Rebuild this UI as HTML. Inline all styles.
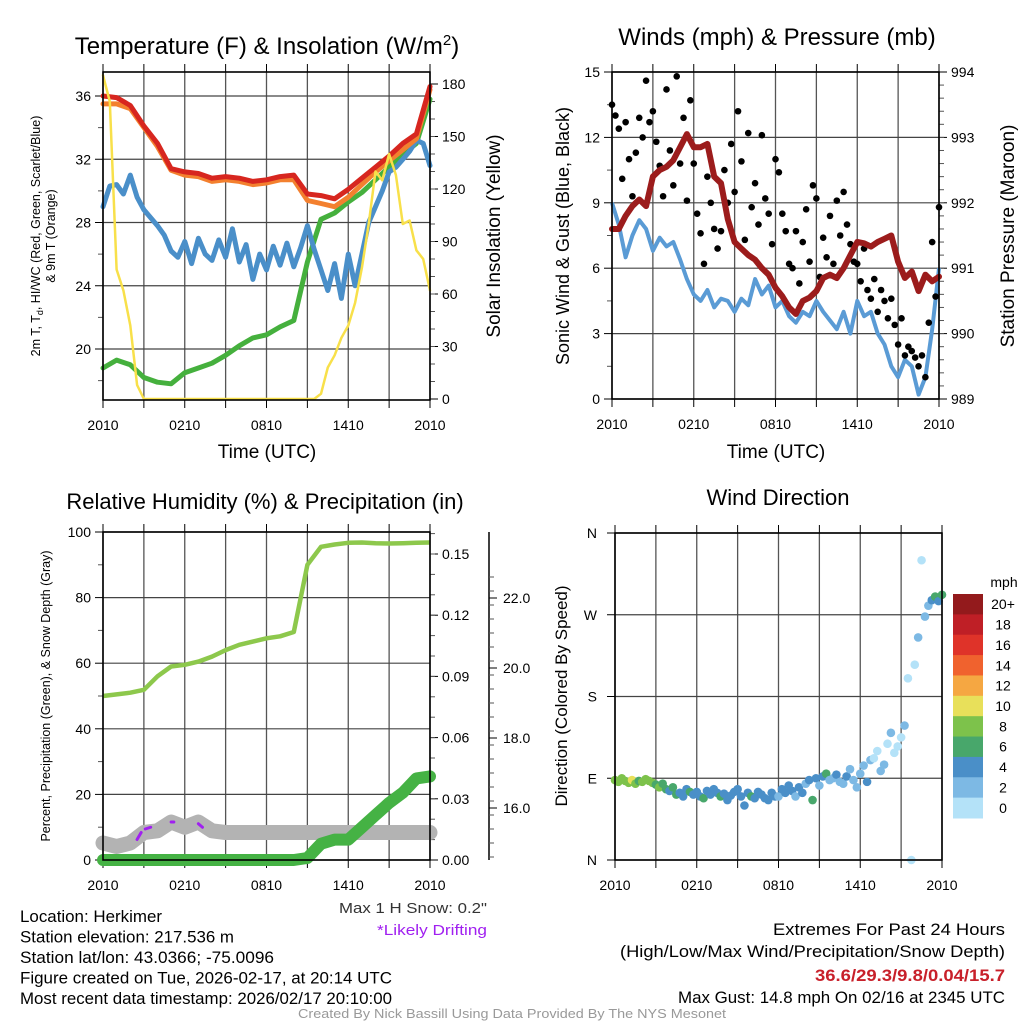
<!DOCTYPE html>
<html><head><meta charset="utf-8"><style>
html,body{margin:0;padding:0;background:#fff}
svg{display:block;font-family:"Liberation Sans",Arial,sans-serif}
</style></head><body>
<svg id="chart" width="1024" height="1024" viewBox="0 0 1024 1024" xmlns="http://www.w3.org/2000/svg">
<g id="g"></g>
</svg>
<script>
// ---------- DATA ----------
const hours = [];
for (let i = 0; i <= 24; i++) hours.push(i);
const halfHours = [];
for (let i = 0; i <= 48; i++) halfHours.push(i / 2);
const qHours = [];
for (let i = 0; i <= 96; i++) qHours.push(i / 4);
const timeTickLabels = ["2010", "0210", "0810", "1410", "2010"];

// Temperature panel (hourly, F)
const tempRed = [36,35.9,35.4,34.1,33.0,31.4,31.2,31.1,30.8,30.9,30.8,30.6,30.7,30.9,31.0,29.8,29.7,29.5,30.1,30.8,31.5,32.2,33.0,33.6,36.6];
const tempOrange = [35.5,35.5,35.2,34.0,32.8,31.3,31.0,30.9,30.6,30.7,30.6,30.4,30.5,30.7,30.7,29.4,29.2,29.0,29.6,30.4,31.2,31.9,32.6,33.3,36.4];
const dewGreen = [18.8,19.3,19.0,18.2,17.9,17.8,18.5,18.8,19.1,19.6,20.2,20.7,20.9,21.4,21.8,25.5,28.2,28.6,29.3,29.9,30.7,31.5,32.3,33.0,35.8];
const windChillBlue = [29.0,30.3,30.4,29.8,31.0,29.6,28.8,28.3,27.8,27.2,26.2,25.8,26.8,25.4,27.0,26.0,25.6,26.9,25.8,27.6,25.5,26.6,24.4,26.0,25.0,26.5,25.3,26.7,25.2,26.4,27.8,26.3,25.0,23.7,25.4,23.2,26.0,24.0,26.0,28.0,29.0,30.0,31.2,31.5,32.0,32.5,33.2,33.0,31.6];
const insolation = [185,170,74,62,42,8,0,0,0,0,0,0,0,0,0,0,0,0,0,0,0,0,0,0,0,0,0,0,0,0,0,0,3,18,25,35,42,55,75,100,130,125,140,128,100,102,85,80,62];
const tempTicks = [20,24,28,32,36];
const insolTicks = [0,30,60,90,120,150,180];

// Winds panel
const windSpeed = [9.0,8.0,6.5,7.5,8.2,7.8,6.8,7.4,7.0,7.2,6.4,5.5,4.8,4.5,5.0,4.2,4.6,4.5,4.0,4.6,4.3,5.5,4.8,5.2,4.2,4.5,3.8,3.5,4.0,3.8,4.5,4.0,3.6,3.2,4.0,3.0,4.5,3.8,4.0,3.0,2.5,1.5,1.0,1.8,1.5,0.2,1.0,3.2,6.0];
const windGust = [13.5,13.0,12.4,10.1,12.7,11.0,9.3,11.3,12.9,12.0,14.6,12.7,13.2,11.8,10.7,9.3,14.2,11.4,9.8,14.8,10.8,12.9,9.1,13.7,10.8,8.5,7.6,6.2,10.2,9.0,7.8,6.9,7.7,10.5,9.0,11.7,9.5,13.2,10.9,7.3,12.2,8.8,9.9,8.0,12.1,9.2,8.5,7.1,11.0,10.4,8.5,7.7,6.2,6.0,7.7,5.3,7.2,8.7,6.3,9.8,9.2,5.6,7.4,6.5,8.4,6.2,9.1,7.5,9.5,8.0,7.1,6.3,6.2,5.4,6.9,5.0,4.6,5.5,4.0,5.0,4.5,3.7,4.6,3.4,2.5,3.7,2.0,2.4,2.2,1.9,1.5,2.0,1.0,3.5,7.2,4.7,8.8];
const pressure = [991.6,991.6,991.8,991.95,992.05,991.95,992.4,992.5,992.55,992.65,992.85,993.05,992.85,992.85,992.9,992.4,992.3,991.75,991.4,991.3,991.2,991.13,991.0,990.9,990.7,990.57,990.4,990.3,990.5,990.55,990.65,990.85,990.9,990.85,991.0,991.2,991.4,991.38,991.33,991.4,991.45,991.5,991.1,990.85,990.95,990.65,990.9,990.8,990.87];
const windTicks = [0,3,6,9,12,15];
const pressTicks = [989,990,991,992,993,994];

// RH / precip panel
const relHum = [50,50.5,51,51.9,56,59,59.5,60.5,62,64,65.6,66.6,67.6,68.2,69.5,90,95.5,96.2,96.7,96.8,96.6,96.5,96.6,96.7,96.8];
const precip = [0,0,0,0,0,0,0,0,0,0,0,0,0,0,0,0.001,0.008,0.01,0.01,0.016,0.022,0.028,0.033,0.04,0.041];
const snowDepth = [15.0,14.9,15.0,15.3,15.35,15.6,15.45,15.6,15.35,15.3,15.3,15.3,15.3,15.3,15.3,15.3,15.3,15.3,15.3,15.3,15.3,15.3,15.3,15.3,15.3];
const driftHours = [2.5,2.8,3.1,3.5,5.0,5.2,7.0,7.3];
const driftSnow = [15.1,15.3,15.4,15.45,15.6,15.6,15.55,15.45];
const rhTicks = [0,20,40,60,80,100];
const precipTicks = ["0.00","0.03","0.06","0.09","0.12","0.15"];
const snowTicks = ["16.0","18.0","20.0","22.0"];

// Wind direction panel
const windDir = [88,86,90,87,85,88,84,87,86,89,87,85,83,80,84,78,76,80,72,74,70,78,75,72,75,70,68,76,72,78,74,70,73,66,71,75,78,70,60,74,70,68,75,72,68,66,74,70,70,78,74,82,76,70,80,74,84,88,66,90,82,92,95,88,90,94,86,84,92,100,88,80,95,104,86,110,112,120,98,105,128,140,118,125,135,148,200,0,215,245,330,268,280,286,290,285,292];
const dirSpeed = [8,9,8,8,9,10,8,7,8,9,8,8,7,8,7,6,5,6,7,5,4,5,6,4,5,4,6,4,4,5,4,6,5,4,4,5,4,5,4,4,6,4,5,4,4,5,4,4,3,4,5,4,4,3,4,5,3,4,6,5,2,4,6,3,3,4,3,2,4,3,3,2,3,2,4,2,1.5,1,2,3,1,2,1.5,1,1,3,1,0.5,1,2.5,1,2,3,4,6,5,7];
const dirLabels = ["N","E","S","W","N"];
const speedBins = ["0","2","4","6","8","10","12","14","16","18","20+"];
const speedColors = ["#b4e2f8","#7db9e4","#4a8fc8","#48a76b","#7dc24b","#e8e05a","#f5a742","#f0622e","#df3329","#bf1f26","#931a1c"];

// ---------- HELPERS ----------
const NS = "http://www.w3.org/2000/svg";
const root = document.getElementById("g");
function el(tag, attrs, parent, text) {
  const e = document.createElementNS(NS, tag);
  for (const k in attrs) e.setAttribute(k, attrs[k]);
  if (text !== undefined) e.textContent = text;
  (parent || root).appendChild(e);
  return e;
}
function lin(d0, d1, r0, r1) { return v => r0 + (v - d0) * (r1 - r0) / (d1 - d0); }
function pathFrom(xs, ys, sx, sy) {
  let d = "";
  for (let i = 0; i < xs.length; i++) d += (i ? "L" : "M") + sx(xs[i]).toFixed(1) + "," + sy(ys[i]).toFixed(1);
  return d;
}
function frame(p, name) {
  const g = el("g", {});
  
  
  for (let h = 0; h <= 24; h += 3) {
    const x = p.sx(h);
    const ln = el("line", {x1:x, y1:p.top, x2:x, y2:p.bot, stroke:"#555", "stroke-width":1.3}, g);
    
    
    el("line", {x1:x, y1:p.top-8, x2:x, y2:p.top, stroke:"#000", "stroke-width":1}, g);
    el("line", {x1:x, y1:p.bot, x2:x, y2:p.bot+8, stroke:"#000", "stroke-width":1}, g);
  }
  for (let i = 0; i < timeTickLabels.length; i++) {
    const t = el("text", {x:p.sx(i*6), y:p.bot+30, "font-size":14, "text-anchor":"middle"}, g, timeTickLabels[i]);
    
    
  }
  return g;
}
function border(p) {
  const r = el("rect", {x:p.x0, y:p.top, width:p.x1-p.x0, height:p.bot-p.top, fill:"none", stroke:"#000", "stroke-width":1.6});
  
  
}
function hgrid(p, ys, g) {
  for (const y of ys) {
    const ln = el("line", {x1:p.x0, y1:y, x2:p.x1, y2:y, stroke:"#444", "stroke-width":1.2}, g);
    
    
  }
}
function leftTicks(p, ticks, minors, sy, g, dx) {
  for (const v of ticks) {
    const y = sy(v);
    el("line", {x1:p.x0-8, y1:y, x2:p.x0, y2:y, stroke:"#000"}, g);
    const t = el("text", {x:p.x0-(dx||12), y:y+5, "font-size":14, "text-anchor":"end"}, g, String(v));
    
    
  }
  for (const v of minors) { const y = sy(v); el("line", {x1:p.x0-5, y1:y, x2:p.x0, y2:y, stroke:"#555"}, g); }
}
function rightTicks(x, ticks, labels, minors, sy, g) {
  for (let i = 0; i < ticks.length; i++) {
    const y = sy(ticks[i]);
    el("line", {x1:x, y1:y, x2:x+8, y2:y, stroke:"#000"}, g);
    const t = el("text", {x:x+12, y:y+5, "font-size":14}, g, labels[i]);
    
    
  }
  for (const v of minors) { const y = sy(v); el("line", {x1:x, y1:y, x2:x+5, y2:y, stroke:"#555"}, g); }
}
function txt(x, y, s, size, attrs, name) {
  const a = Object.assign({x:x, y:y, "font-size":size}, attrs || {});
  const t = el("text", a, null, s);
  
  
  return t;
}
function rangeStep(a, b, s) { const r = []; for (let v = a; v <= b + 1e-9; v += s) r.push(v); return r; }

// ---------- PANEL 1: Temperature ----------
(function(){
  const p = {x0:103, x1:430, top:72, bot:400};
  p.sx = lin(0, 24, 103, 430);
  const sy = lin(36, 20, 96, 349);
  const syI = lin(0, 180, 399, 84);
  const g = frame(p, "temperature-panel");
  hgrid(p, tempTicks.map(sy), g);
  leftTicks(p, tempTicks, [18,22,26,30,34], sy, g);
  rightTicks(p.x1, insolTicks, insolTicks.map(String), rangeStep(10,170,10), syI, g);
  const series = [
    [halfHours, insolation, syI, "#f8e04a", 2.5, "insolation-line"],
    [hours, dewGreen, sy, "#45b03d", 5, "dewpoint-line"],
    [halfHours, windChillBlue, sy, "#4a8fc9", 5, "wind-chill-line"],
    [hours, tempOrange, sy, "#f3802f", 5, "temp-9m-line"],
    [hours, tempRed, sy, "#d7261f", 5, "temp-2m-line"]
  ];
  const order = [1,2,3,4,0];
  for (const i of order) {
    const s = series[i];
    const pth = el("path", {d:pathFrom(s[0], s[1], p.sx, s[2]), fill:"none", stroke:s[3], "stroke-width":s[4], "stroke-linejoin":"round", "stroke-linecap":"round"}, g);
    
    
  }
  border(p);
  const t = txt(267, 54, "Temperature (F) & Insolation (W/m", 24, {"text-anchor":"middle"}, "temperature-title");
  el("tspan", {dy:-9, "font-size":15}, t, "2");
  el("tspan", {dy:9}, t, ")");
  txt(267, 458, "Time (UTC)", 19, {"text-anchor":"middle"}, "temperature-x-axis-title");
  const yt = txt(0, 0, "2m T, T", 12.5, {transform:"translate(40,236) rotate(-90)", "text-anchor":"middle"}, "temperature-y-axis-title");
  el("tspan", {dy:3, "font-size":9}, yt, "d");
  el("tspan", {dy:-3}, yt, ", HI/WC (Red, Green, Scarlet/Blue)");
  txt(0, 0, "& 9m T (Orange)", 12.5, {transform:"translate(55,236) rotate(-90)", "text-anchor":"middle"}, "temperature-y-axis-title-line2");
  txt(0, 0, "Solar Insolation (Yellow)", 19, {transform:"translate(500,236) rotate(-90)", "text-anchor":"middle"}, "insolation-axis-title");
})();

// ---------- PANEL 2: Winds ----------
(function(){
  const p = {x0:612, x1:939, top:72, bot:399};
  p.sx = lin(0, 24, 612, 939);
  const sy = lin(0, 15, 399, 72);
  const syP = lin(989, 994, 399, 72);
  const g = frame(p, "winds-panel");
  hgrid(p, windTicks.map(sy), g);
  leftTicks(p, windTicks, [1.5,4.5,7.5,10.5,13.5], sy, g);
  rightTicks(p.x1, pressTicks, pressTicks.map(String), rangeStep(989.2,993.8,0.2), syP, g);
  const wl = el("path", {d:pathFrom(halfHours, windSpeed, p.sx, sy), fill:"none", stroke:"#5a9bd5", "stroke-width":4, "stroke-linejoin":"round"}, g);
  
  
  for (let i = 0; i < qHours.length; i++) {
    const c = el("circle", {cx:p.sx(qHours[i]), cy:sy(windGust[i]), r:3.3, fill:"#000"}, g);
    
    
  }
  const pl = el("path", {d:pathFrom(halfHours, pressure, p.sx, syP), fill:"none", stroke:"#9c1c1c", "stroke-width":6, "stroke-linejoin":"round", "stroke-linecap":"round"}, g);
  
  
  border(p);
  txt(777, 45, "Winds (mph) & Pressure (mb)", 24, {"text-anchor":"middle"}, "winds-title");
  txt(776, 458, "Time (UTC)", 19, {"text-anchor":"middle"}, "winds-x-axis-title");
  txt(0, 0, "Sonic Wind & Gust (Blue, Black)", 18, {transform:"translate(569,236) rotate(-90)", "text-anchor":"middle"}, "wind-y-axis-title");
  txt(0, 0, "Station Pressure (Maroon)", 19, {transform:"translate(1014,236) rotate(-90)", "text-anchor":"middle"}, "pressure-axis-title");
})();

// ---------- PANEL 3: RH & precip ----------
(function(){
  const p = {x0:103, x1:430, top:532, bot:860};
  p.sx = lin(0, 24, 103, 430);
  const sy = lin(0, 100, 860, 532);
  const syR = lin(0, 0.15, 860, 554);
  const syS = lin(16, 22, 808, 598);
  const g = frame(p, "humidity-panel");
  hgrid(p, rhTicks.map(sy), g);
  leftTicks(p, rhTicks, [10,30,50,70,90], sy, g);
  rightTicks(p.x1, precipTicks.map(Number), precipTicks, rangeStep(0.01,0.16,0.01), syR, g);
  const ax = el("line", {x1:489, y1:532, x2:489, y2:860, stroke:"#000", "stroke-width":1.5}, g);
  
  
  for (const v of snowTicks) {
    const y = syS(Number(v));
    el("line", {x1:489, y1:y, x2:497, y2:y, stroke:"#000"}, g);
    const t = el("text", {x:503, y:y+5, "font-size":14}, g, v);
    
    
  }
  for (const v of rangeStep(14.6,22.6,0.4)) { const y = syS(v); if (y>532 && y<860) el("line", {x1:489, y1:y, x2:494, y2:y, stroke:"#555"}, g); }
  const sn = el("path", {d:pathFrom(hours, snowDepth, p.sx, syS), fill:"none", stroke:"#b3b3b3", "stroke-width":15, "stroke-linejoin":"round", "stroke-linecap":"round"}, g);
  
  
  for (let i = 0; i + 1 < driftHours.length; i += 2) {
    const d = el("line", {x1:p.sx(driftHours[i]), y1:syS(driftSnow[i]), x2:p.sx(driftHours[i+1]), y2:syS(driftSnow[i+1]), stroke:"#a020f0", "stroke-width":3, "stroke-linecap":"round"}, g);
    
    
  }
  const rh = el("path", {d:pathFrom(hours, relHum, p.sx, sy), fill:"none", stroke:"#8dc84c", "stroke-width":4.5, "stroke-linejoin":"round"}, g);
  
  
  const pr = el("path", {d:pathFrom(hours, precip, p.sx, syR), fill:"none", stroke:"#45b244", "stroke-width":12, "stroke-linejoin":"round", "stroke-linecap":"round"}, g);
  
  
  border(p);
  txt(265, 509, "Relative Humidity (%) & Precipitation (in)", 22, {"text-anchor":"middle"}, "humidity-title");
  txt(0, 0, "Percent, Precipitation (Green), & Snow Depth (Gray)", 12.5, {transform:"translate(50,696) rotate(-90)", "text-anchor":"middle"}, "humidity-y-axis-title");
  txt(487, 913, "Max 1 H Snow: 0.2\"", 15, {"text-anchor":"end", fill:"#333", textLength:148, lengthAdjust:"spacingAndGlyphs"}, "max-snow-note");
  txt(487, 935, "*Likely Drifting", 15, {"text-anchor":"end", fill:"#a020f0", textLength:110, lengthAdjust:"spacingAndGlyphs"}, "drifting-note");
})();

// ---------- PANEL 4: Wind direction ----------
(function(){
  const p = {x0:615, x1:942, top:533, bot:860};
  p.sx = lin(0, 24, 615, 942);
  const sy = lin(0, 360, 860, 533);
  const g = frame(p, "wind-direction-panel");
  const dirVals = [0,90,180,270,360];
  hgrid(p, dirVals.map(sy), g);
  for (let i = 0; i < dirVals.length; i++) {
    const y = sy(dirVals[i]);
    el("line", {x1:p.x0-8, y1:y, x2:p.x0, y2:y, stroke:"#000"}, g);
    const t = el("text", {x:p.x0-18, y:y+5, "font-size":14, "text-anchor":"end"}, g, dirLabels[i]);
    
    
  }
  function colorFor(s) { let k = Math.floor(s / 2); if (k > 10) k = 10; if (k < 0) k = 0; return speedColors[k]; }
  for (let i = 0; i < qHours.length; i++) {
    const c = el("circle", {cx:p.sx(qHours[i]), cy:sy(windDir[i]), r:4.3, fill:colorFor(dirSpeed[i])}, g);
    
    
  }
  border(p);
  const cb = el("g", {});
  
  
  const segH = 224 / speedBins.length;
  for (let i = 0; i < speedBins.length; i++) {
    const k = speedBins.length - 1 - i;
    const y = 594 + i * segH;
    const r = el("rect", {x:953, y:y, width:30, height:segH+0.5, fill:speedColors[k]}, cb);
    
    
    const t = el("text", {x:1003, y:y+segH/2+5, "font-size":14, "text-anchor":"middle"}, cb, speedBins[k]);
    
    
  }
  txt(1004, 587, "mph", 14, {"text-anchor":"middle"}, "colorbar-title");
  txt(778, 505, "Wind Direction", 22, {"text-anchor":"middle"}, "wind-direction-title");
  txt(0, 0, "Direction (Colored By Speed)", 17, {transform:"translate(567,696) rotate(-90)", "text-anchor":"middle"}, "direction-y-axis-title");
})();

// ---------- FOOTER ----------
const leftLines = ["Location: Herkimer","Station elevation: 217.536 m","Station lat/lon: 43.0366; -75.0096","Figure created on Tue, 2026-02-17, at 20:14 UTC","Most recent data timestamp: 2026/02/17 20:10:00"];
const leftWidths = [142,214,254,372,372];
for (let i = 0; i < leftLines.length; i++) {
  txt(20, 922 + i * 20.5, leftLines[i], 17, {textLength:leftWidths[i], lengthAdjust:"spacingAndGlyphs"}, "station-info-line");
}
txt(1005, 935, "Extremes For Past 24 Hours", 17, {"text-anchor":"end", textLength:232, lengthAdjust:"spacingAndGlyphs"}, "extremes-title");
txt(1005, 957, "(High/Low/Max Wind/Precipitation/Snow Depth)", 17, {"text-anchor":"end", textLength:385, lengthAdjust:"spacingAndGlyphs"}, "extremes-legend");
txt(1005, 981, "36.6/29.3/9.8/0.04/15.7", 17, {"text-anchor":"end", fill:"#c8202a", "font-weight":"bold", textLength:190, lengthAdjust:"spacingAndGlyphs"}, "extremes-values");
txt(1005, 1003, "Max Gust: 14.8 mph On 02/16 at 2345 UTC", 17, {"text-anchor":"end", textLength:327, lengthAdjust:"spacingAndGlyphs"}, "max-gust-line");
txt(512, 1018, "Created By Nick Bassill Using Data Provided By The NYS Mesonet", 13, {"text-anchor":"middle", fill:"#999", textLength:428, lengthAdjust:"spacingAndGlyphs"}, "credit-line");
</script>
</body></html>
